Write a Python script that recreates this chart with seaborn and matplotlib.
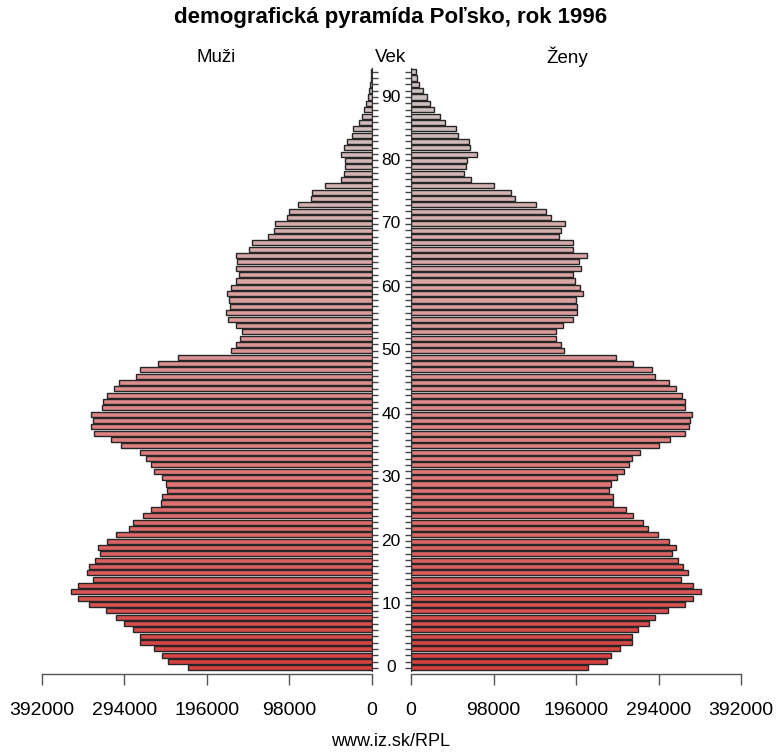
import numpy as np
import pandas as pd
import matplotlib
matplotlib.use('Agg')
import matplotlib.pyplot as plt
import matplotlib.transforms as mtransforms
from matplotlib.colors import LinearSegmentedColormap
import seaborn as sns

# vek 0..94
vek = list(range(95))

muzi = [219000, 242000, 249000, 259000, 275000, 275000, 284000, 295000, 304000, 316000,
        336000, 349000, 357000, 349000, 332000, 338000, 336000, 329000, 323000, 325000,
        315000, 304000, 289000, 284000, 272000, 263000, 251000, 250000, 244000, 245000,
        249000, 259000, 263000, 268000, 276000, 298000, 310000, 330000, 334000, 331000,
        334000, 321000, 319000, 315000, 307000, 300000, 280000, 276000, 254000, 231000,
        168000, 162000, 157000, 155000, 162000, 171000, 173000, 169000, 170000, 172000,
        168000, 161000, 158000, 162000, 160000, 161000, 146000, 143000, 123000, 116000,
        115000, 101000, 98000, 88000, 73000, 71000, 56000, 37000, 33000, 32000,
        32000, 37000, 33000, 30000, 24000, 22000, 16000, 12000, 9500, 7000,
        5200, 3600, 2400, 1200, 800]

zeny = [210000, 233000, 238000, 248000, 263000, 263000, 270000, 283000, 290000, 305000,
        325000, 335000, 344000, 335000, 321000, 329000, 323000, 317000, 310000, 315000,
        306000, 293000, 282000, 276000, 264000, 255000, 240000, 240000, 235000, 238000,
        245000, 253000, 259000, 263000, 272000, 295000, 308000, 326000, 330000, 331000,
        334000, 325000, 325000, 322000, 315000, 307000, 290000, 286000, 264000, 243000,
        182000, 178000, 172000, 172000, 180000, 193000, 197000, 197000, 196000, 204000,
        201000, 195000, 193000, 202000, 199000, 209000, 192000, 193000, 176000, 178000,
        183000, 166000, 160000, 149000, 124000, 119000, 99000, 71000, 63000, 65000,
        66000, 78000, 70000, 69000, 56000, 53000, 40000, 35000, 27000, 23000,
        19000, 14000, 10000, 7500, 5600]

x_ticks = [0, 98000, 196000, 294000, 392000]
vek_labels = list(range(0, 91, 10))

df = pd.DataFrame({'Vek': vek, 'Muzi': muzi, 'Zeny': zeny})

sns.set_style('white')
plt.rcParams['font.family'] = ['Liberation Sans', 'DejaVu Sans']
plt.rcParams['text.color'] = 'black'
plt.rcParams['xtick.color'] = 'black'
plt.rcParams['ytick.color'] = 'black'

cmap = LinearSegmentedColormap.from_list('pyr', ['#d63f3f', '#e07a7a', '#d9a6a6', '#cbc4c4'])
farby = [cmap(v / 94) for v in vek]

fig = plt.figure(figsize=(7.76, 7.52), dpi=100)
ax_m = fig.add_axes([42 / 776, 1 - 674.3 / 752, 330 / 776, 609 / 752])
ax_z = fig.add_axes([411 / 776, 1 - 674.3 / 752, 330 / 776, 609 / 752])

for ax, stlpec in [(ax_m, 'Muzi'), (ax_z, 'Zeny')]:
    sns.barplot(data=df, x=stlpec, y='Vek', orient='y', native_scale=True,
                width=0.8, errorbar=None, color='#d64444',
                edgecolor='#262626', linewidth=1.0, ax=ax)
    for patch, c in zip(ax.patches, farby):
        patch.set_facecolor(c)
    ax.set_ylim(-1, 95)
    ax.set_xlim(0, 392000)
    ax.set_xticks(x_ticks)
    ax.set_xticklabels([str(t) for t in x_ticks], fontsize=14)
    ax.set_yticks(vek)
    ax.set_yticklabels([])
    ax.set_xlabel('')
    ax.set_ylabel('')
    for s in ['top', 'left', 'right', 'bottom']:
        ax.spines[s].set_visible(False)
    ax.spines['bottom'].set_visible(True)
    ax.spines['bottom'].set_color('#555555')
    ax.spines['bottom'].set_linewidth(1.0)
    ax.tick_params(axis='x', bottom=True, length=8, width=1, color='#555555',
                   pad=12, direction='out', labelcolor='black')
    ax.tick_params(axis='y', length=4.5, width=1, color='#444444', direction='out')

# muzi: os otocena, zvisla os vpravo
ax_m.invert_xaxis()
ax_m.spines['right'].set_visible(True)
ax_m.spines['right'].set_color('#333333')
ax_m.spines['right'].set_bounds(-0.5, 94.5)
ax_m.yaxis.tick_right()
ax_m.tick_params(axis='y', left=False, right=True)

ax_z.spines['left'].set_visible(True)
ax_z.spines['left'].set_color('#333333')
ax_z.spines['left'].set_bounds(-0.5, 94.5)
ax_z.yaxis.tick_left()
ax_z.tick_params(axis='y', left=True, right=False)

trans = mtransforms.blended_transform_factory(ax_m.transAxes, ax_m.transData)
for v in vek_labels:
    ax_m.text(1.058, v, str(v), transform=trans, ha='center', va='center', fontsize=12.5)

fig.text(0.503, 1 - 18 / 752, 'demografická pyramída Poľsko, rok 1996',
         ha='center', va='center', fontsize=16, fontweight='bold')
fig.text(216 / 776, 1 - 57 / 752, 'Muži', ha='center', va='center', fontsize=13.5)
fig.text(391 / 776, 1 - 57 / 752, 'Vek', ha='center', va='center', fontsize=13.5)
fig.text(567 / 776, 1 - 57 / 752, 'Ženy', ha='center', va='center', fontsize=13.5)
fig.text(391 / 776, 1 - 741 / 752, 'www.iz.sk/RPL', ha='center', va='center', fontsize=13)

fig.savefig('out.png', dpi=100)
